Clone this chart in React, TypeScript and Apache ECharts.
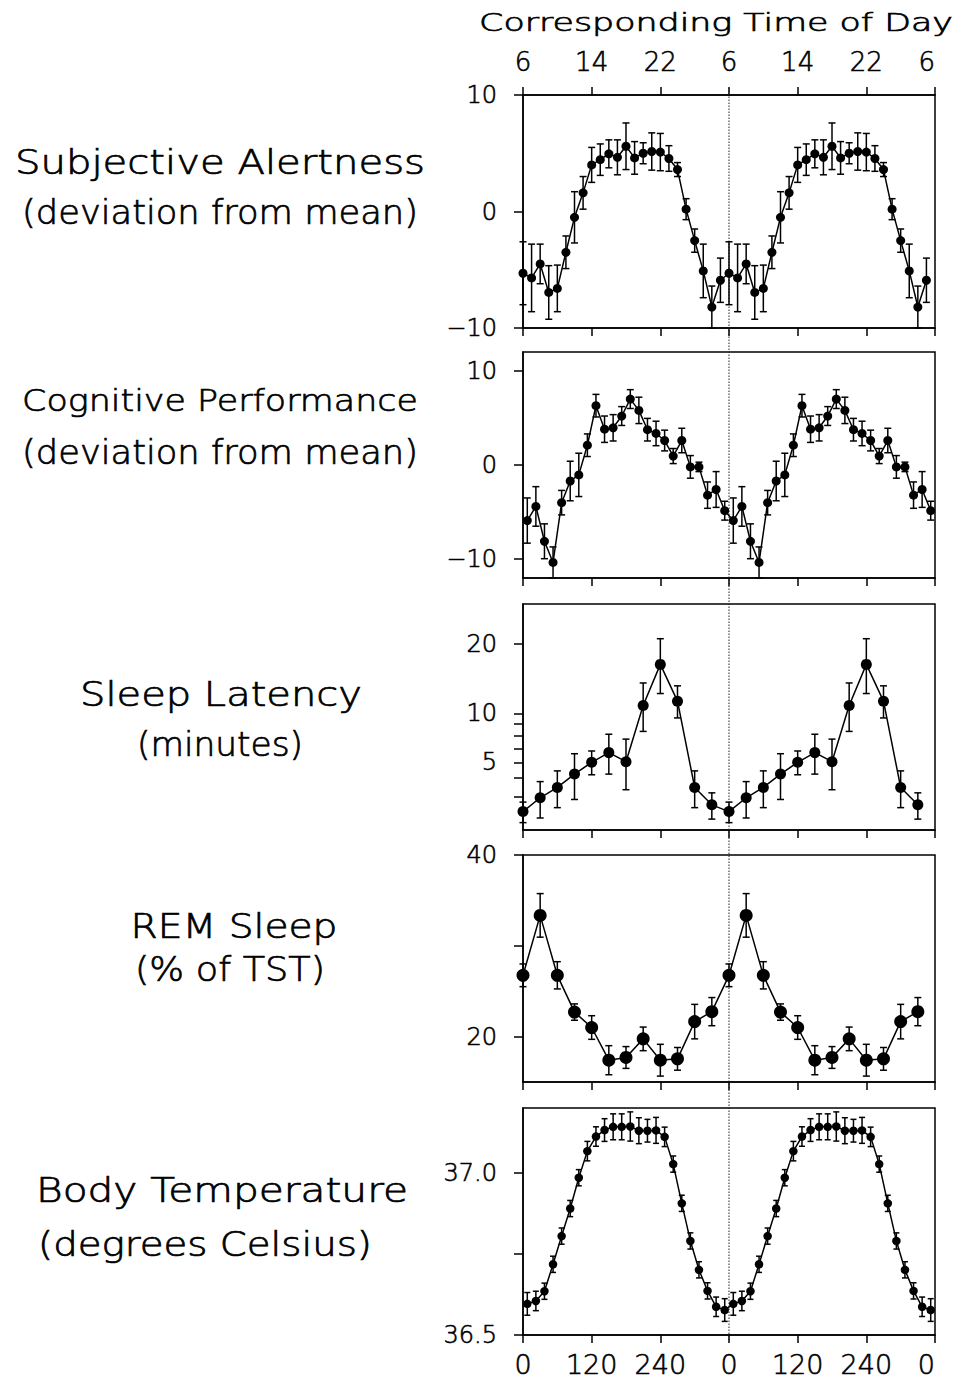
import React, { useEffect, useRef } from "react";
import * as echarts from "echarts";

// Circadian phase bins (degrees) for one cycle; every panel is double-plotted over 0–720.
const phaseHourly = [0, 15, 30, 45, 60, 75, 90, 105, 120, 135, 150, 165, 180, 195, 210, 225, 240, 255, 270, 285, 300, 315, 330, 345];
const phaseHourlyMid = [7.5, 22.5, 37.5, 52.5, 67.5, 82.5, 97.5, 112.5, 127.5, 142.5, 157.5, 172.5, 187.5, 202.5, 217.5, 232.5, 247.5, 262.5, 277.5, 292.5, 307.5, 322.5, 337.5, 352.5];
const phaseTwoHourly = [0, 30, 60, 90, 120, 150, 180, 210, 240, 270, 300, 330];

// Subjective alertness (deviation from mean) and SEM
const alertnessMean = [-5.3, -5.7, -4.5, -6.95, -6.6, -3.5, -0.5, 1.6, 4.0, 4.45, 4.95, 4.65, 5.6, 4.6, 5.0, 5.15, 5.1, 4.55, 3.6, 0.2, -2.5, -5.1, -8.2, -5.9];
const alertnessSem = [2.7, 2.9, 1.7, 2.3, 2.0, 1.4, 2.2, 1.4, 1.5, 1.35, 1.2, 1.5, 2.0, 1.4, 0.9, 1.6, 1.6, 1.1, 0.6, 0.9, 1.0, 2.3, 1.8, 1.9];

// Cognitive performance (deviation from mean) and SEM
const cognitionMean = [-5.9, -4.4, -8.1, -10.35, -4.0, -1.7, -1.05, 2.1, 6.3, 3.8, 3.95, 5.2, 7.0, 5.8, 3.75, 3.35, 2.6, 0.95, 2.6, -0.2, -0.2, -3.2, -2.6, -4.85];
const cognitionSem = [2.4, 2.1, 1.85, 1.65, 1.3, 2.1, 2.3, 1.2, 1.2, 1.4, 1.4, 1.0, 1.0, 1.4, 1.2, 1.3, 1.1, 0.8, 1.3, 1.2, 0.5, 1.4, 1.9, 1.0];

// Sleep latency (minutes) and SEM
const latencyMean = [1.7, 2.45, 3.1, 4.05, 5.0, 5.85, 5.05, 10.95, 16.7, 11.5, 3.1, 2.05];
const latencySem = [0.5, 1.05, 1.2, 1.7, 1.0, 1.8, 2.1, 3.0, 4.2, 2.05, 1.2, 0.7];

// REM sleep (% of total sleep time) and SEM
const remMean = [26.75, 33.35, 26.75, 22.7, 21.0, 17.4, 17.7, 19.75, 17.4, 17.55, 21.65, 22.75];
const remSem = [1.25, 2.4, 1.5, 0.9, 1.3, 1.6, 1.2, 1.3, 1.75, 1.25, 1.9, 1.55];

// Core body temperature (degrees Celsius) and SEM
const temperatureMean = [36.596, 36.605, 36.635, 36.718, 36.805, 36.89, 36.985, 37.067, 37.112, 37.132, 37.142, 37.142, 37.143, 37.13, 37.13, 37.131, 37.111, 37.027, 36.906, 36.79, 36.701, 36.636, 36.587, 36.577];
const temperatureSem = [0.035, 0.03, 0.025, 0.025, 0.025, 0.025, 0.025, 0.03, 0.03, 0.035, 0.04, 0.04, 0.045, 0.04, 0.035, 0.04, 0.03, 0.025, 0.025, 0.025, 0.025, 0.025, 0.03, 0.035];

// Axis ticks and labels
const phaseTickLabels = ["0", "120", "240", "0", "120", "240", "0"];
const timeOfDayTickLabels = ["6", "14", "22", "6", "14", "22", "6"];
const deviationTicks = [-10, 0, 10];
const latencyTicks = [2.5, 3.75, 5, 6.25, 7.5, 8.75, 10, 20];
const latencyLabels = [5, 10, 20];
const latencyRange = [0.914, 27.33];
const remTicks = [20, 30, 40];
const remLabels = [20, 40];
const temperatureTicks = [36.5, 36.75, 37.0];
const temperatureLabels = [36.5, 37.0];

const FONT = '"DejaVu Sans", "Liberation Sans", sans-serif';
const WEIGHT = 200;
const INK = "#000";

const identity = (v: number) => v;
const minusSign = (v: number) => (v < 0 ? "\u2212" + Math.abs(v) : String(v));

type Panel = {
  phase: number[];
  mean: number[];
  sem: number[];
  tf: (v: number) => number;
  top: number;
  height: number;
  min: number;
  max: number;
  ticks: number[];
  labels: number[];
  fmt: (v: number) => string;
  symbolSize: number;
  cap: number;
};

const panels: Panel[] = [
  { phase: phaseHourly, mean: alertnessMean, sem: alertnessSem, tf: identity, top: 95, height: 233, min: -10, max: 10, ticks: deviationTicks, labels: deviationTicks, fmt: minusSign, symbolSize: 9, cap: 3.5 },
  { phase: phaseHourlyMid, mean: cognitionMean, sem: cognitionSem, tf: identity, top: 352, height: 226, min: -12, max: 12, ticks: deviationTicks, labels: deviationTicks, fmt: minusSign, symbolSize: 9, cap: 3.5 },
  { phase: phaseTwoHourly, mean: latencyMean, sem: latencySem, tf: Math.sqrt, top: 604, height: 226, min: Math.sqrt(latencyRange[0]), max: Math.sqrt(latencyRange[1]), ticks: latencyTicks.map(Math.sqrt), labels: latencyLabels.map(Math.sqrt), fmt: (v) => String(Math.round(v * v)), symbolSize: 11, cap: 3.5 },
  { phase: phaseTwoHourly, mean: remMean, sem: remSem, tf: identity, top: 855, height: 227, min: 15, max: 40, ticks: remTicks, labels: remLabels, fmt: (v) => String(v), symbolSize: 13, cap: 3.5 },
  { phase: phaseHourlyMid, mean: temperatureMean, sem: temperatureSem, tf: identity, top: 1108, height: 227, min: 36.5, max: 37.2, ticks: temperatureTicks, labels: temperatureLabels, fmt: (v) => v.toFixed(1), symbolSize: 8.5, cap: 3 },
];

const GRID_LEFT = 523;
const GRID_WIDTH = 412;

// Left-hand panel titles and the time-of-day heading
const titleLayout = [
  { text: "Corresponding Time of Day", cx: 716, cy: 22, w: 474, size: 25 },
  { text: "Subjective Alertness", cx: 220, cy: 163, w: 410, size: 33 },
  { text: "(deviation from mean)", cx: 220, cy: 212, w: 396, size: 33 },
  { text: "Cognitive Performance", cx: 220, cy: 400, w: 396, size: 31 },
  { text: "(deviation from mean)", cx: 220, cy: 452, w: 396, size: 33 },
  { text: "Sleep Latency", cx: 221, cy: 695, w: 282, size: 33 },
  { text: "(minutes)", cx: 220, cy: 745, w: 166, size: 33 },
  { text: "REM Sleep", cx: 234, cy: 927, w: 207, size: 33 },
  { text: "(% of TST)", cx: 230, cy: 970, w: 190, size: 33 },
  { text: "Body Temperature", cx: 222, cy: 1191, w: 372, size: 33 },
  { text: "(degrees Celsius)", cx: 205, cy: 1245, w: 334, size: 33 },
];

function doublePlot(phase: number[], values: number[]) {
  const out: number[][] = [];
  for (const offset of [0, 360]) {
    phase.forEach((p, i) => out.push([p + offset, values[i]]));
  }
  return out;
}

function measure(text: string, size: number) {
  const ctx = document.createElement("canvas").getContext("2d");
  if (!ctx) return text.length * size * 0.6;
  ctx.font = `${WEIGHT} ${size}px ${FONT}`;
  return ctx.measureText(text).width;
}

function buildOption() {
  const grids: any[] = [];
  const xAxes: any[] = [];
  const yAxes: any[] = [];
  const series: any[] = [];

  const axisText = (size: number) => ({
    fontSize: size,
    fontFamily: FONT,
    fontWeight: WEIGHT,
    color: INK,
    textBorderColor: INK,
    textBorderWidth: 0.6,
  });

  panels.forEach((p, i) => {
    grids.push({
      left: GRID_LEFT,
      width: GRID_WIDTH,
      top: p.top,
      height: p.height,
      show: true,
      borderColor: INK,
      borderWidth: 1.5,
      backgroundColor: "transparent",
    });
    xAxes.push({
      type: "value",
      gridIndex: i,
      position: "bottom",
      min: 0,
      max: 720,
      interval: 120,
      axisLine: { show: true, onZero: false, lineStyle: { color: INK, width: 1.5 } },
      axisTick: { show: true, inside: false, length: 8, lineStyle: { color: INK, width: 1.5 } },
      axisLabel: {
        show: i === panels.length - 1,
        margin: 29,
        verticalAlign: "middle",
        ...axisText(27),
        alignMaxLabel: "right",
        formatter: (v: number) => phaseTickLabels[Math.round(v / 120)],
      },
      splitLine: { show: false },
    });
    yAxes.push({
      type: "value",
      gridIndex: i,
      min: p.min,
      max: p.max,
      axisLine: { show: true, onZero: false, lineStyle: { color: INK, width: 1.5 } },
      axisTick: { show: true, inside: false, length: 9, customValues: p.ticks, lineStyle: { color: INK, width: 1.5 } },
      axisLabel: { show: true, margin: 26, ...axisText(24), customValues: p.labels, formatter: p.fmt },
      splitLine: { show: false },
    });

    const lineData = doublePlot(p.phase, p.mean.map(p.tf));
    const errData = doublePlot(p.phase, p.mean).map(([x], k) => {
      const j = k % p.phase.length;
      return [x, p.tf(p.mean[j] - p.sem[j]), p.tf(p.mean[j] + p.sem[j])];
    });

    series.push({
      type: "custom",
      xAxisIndex: i,
      yAxisIndex: i,
      clip: false,
      z: 3,
      silent: true,
      data: errData,
      encode: { x: 0, y: [1, 2] },
      renderItem: (_params: any, api: any) => {
        const x = api.value(0);
        const lo = api.coord([x, api.value(1)]);
        const hi = api.coord([x, api.value(2)]);
        const style = { stroke: INK, lineWidth: 1.5 };
        return {
          type: "group",
          children: [
            { type: "line", shape: { x1: lo[0], y1: lo[1], x2: hi[0], y2: hi[1] }, style },
            { type: "line", shape: { x1: lo[0] - p.cap, y1: lo[1], x2: lo[0] + p.cap, y2: lo[1] }, style },
            { type: "line", shape: { x1: hi[0] - p.cap, y1: hi[1], x2: hi[0] + p.cap, y2: hi[1] }, style },
          ],
        };
      },
    });
    series.push({
      type: "line",
      xAxisIndex: i,
      yAxisIndex: i,
      z: 4,
      silent: true,
      data: lineData,
      symbol: "circle",
      symbolSize: p.symbolSize,
      itemStyle: { color: INK },
      lineStyle: { color: INK, width: 1.5 },
    });
  });

  // time-of-day scale along the top of the first panel
  xAxes.push({
    type: "value",
    gridIndex: 0,
    position: "top",
    min: 0,
    max: 720,
    interval: 120,
    axisLine: { show: true, onZero: false, lineStyle: { color: INK, width: 1.5 } },
    axisTick: { show: true, inside: false, length: 8, lineStyle: { color: INK, width: 1.5 } },
    axisLabel: {
      show: true,
      margin: 20,
      ...axisText(26),
      alignMaxLabel: "right",
      formatter: (v: number) => timeOfDayTickLabels[Math.round(v / 120)],
    },
    splitLine: { show: false },
  });

  // overlay spanning every panel, carrying the dotted 360° divider
  grids.push({ left: GRID_LEFT, width: GRID_WIDTH, top: 88, height: 1252, show: false });
  xAxes.push({ type: "value", gridIndex: panels.length, min: 0, max: 720, show: false });
  yAxes.push({ type: "value", gridIndex: panels.length, min: 0, max: 1, show: false });
  series.push({
    type: "line",
    xAxisIndex: xAxes.length - 1,
    yAxisIndex: yAxes.length - 1,
    z: 1,
    silent: true,
    symbol: "none",
    data: [
      [360, 0],
      [360, 1],
    ],
    lineStyle: { color: "#222", width: 1, type: [1.5, 1.5] },
  });

  const graphic = titleLayout.map((t) => {
    const natural = measure(t.text, t.size);
    return {
      type: "text",
      x: t.cx,
      y: t.cy,
      scaleX: t.w / natural,
      silent: true,
      style: {
        text: t.text,
        x: 0,
        y: 0,
        align: "center",
        verticalAlign: "middle",
        fontSize: t.size,
        fontFamily: FONT,
        fontWeight: WEIGHT,
        fill: INK,
        stroke: INK,
        lineWidth: 0.7,
      },
    };
  });

  return {
    animation: false,
    backgroundColor: "#fff",
    grid: grids,
    xAxis: xAxes,
    yAxis: yAxes,
    series,
    graphic,
  };
}

export default function App() {
  const ref = useRef<HTMLDivElement>(null);
  useEffect(() => {
    if (!ref.current) return;
    const chart = echarts.init(ref.current, undefined, { renderer: "svg" });
    chart.setOption(buildOption() as any);
    return () => chart.dispose();
  }, []);
  return (
    <div
      ref={ref}
      style={{ position: "absolute", left: 0, top: 0, width: 961, height: 1380, background: "#fff" }}
    />
  );
}
